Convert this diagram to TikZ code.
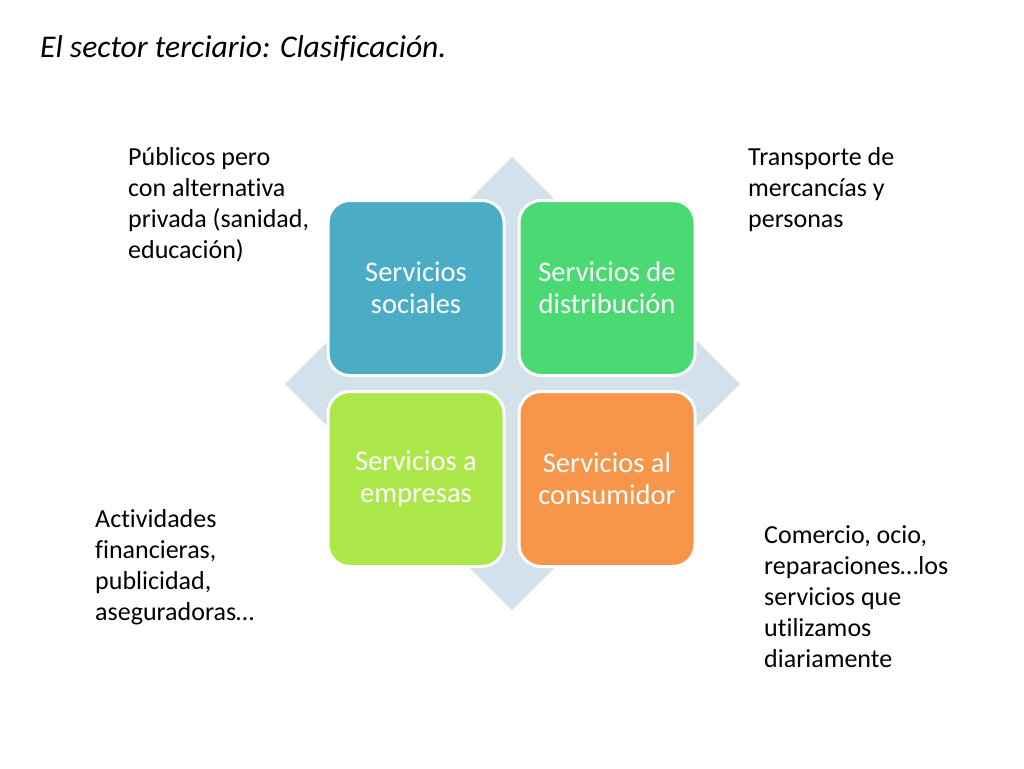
\documentclass[tikz,border=0pt]{standalone}
\usepackage{fontspec}
\setmainfont{Carlito}[Ligatures={NoCommon}]
\definecolor{diamondblue}{HTML}{D2E1EA}
\definecolor{socblue}{HTML}{4BACC6}
\definecolor{distgreen}{HTML}{4AD973}
\definecolor{emplime}{HTML}{ADE84A}
\definecolor{consorange}{HTML}{F7964A}
\tikzset{
  tile/.style={draw=white, line width=3pt, rounded corners=22pt,
    minimum width=176pt, minimum height=175pt, inner sep=0pt,
    align=center, text=white, font=\fontsize{28.5}{32}\selectfont},
  sidetext/.style={anchor=base west, inner sep=0pt, align=left,
    font=\fontsize{26}{31}\selectfont}
}
\begin{document}
\begin{tikzpicture}[x=1pt,y=-1pt]

  % Page frame
  \useasboundingbox (0,0) rectangle (1024,768);
  \fill[white] (0,0) rectangle (1024,768);

  % Title
  \node[anchor=base west, inner sep=0pt, font=\fontsize{31.6}{36}\selectfont\itshape]
    (title) at (40,57) {El sector terciario: Clasificación.};

  % Define the tips of the diamond behind the tiles
  \coordinate (T) at (512,157);
  \coordinate (R) at (740,384);
  \coordinate (B) at (512,610);
  \coordinate (L) at (285,384);

  % Draw the diamond
  \fill[diamondblue] (T) -- (R) -- (B) -- (L) -- cycle;

  % The four tiles
  \node[tile, fill=socblue] (soc) at (416,288) {Servicios\\sociales};
  \node[tile, fill=distgreen] (dist) at (607,288) {Servicios de\\distribución};
  \node[tile, fill=emplime] (emp) at (416,479) {Servicios a\\empresas};
  \node[tile, fill=consorange] (cons) at (607,479) {Servicios al\\consumidor};

  % Notes beside the tiles (placed at the baseline of their last line)
  \node[sidetext] (pub) at (128,258)
    {Públicos pero\\con alternativa\\privada (sanidad,\\educación)};
  \node[sidetext] (trans) at (748,227)
    {Transporte de\\mercancías y\\personas};
  \node[sidetext] (fin) at (95,620)
    {Actividades\\financieras,\\publicidad,\\aseguradoras…};
  \node[sidetext] (com) at (764,667)
    {Comercio, ocio,\\reparaciones…los\\servicios que\\utilizamos\\diariamente};

\end{tikzpicture}
\end{document}
